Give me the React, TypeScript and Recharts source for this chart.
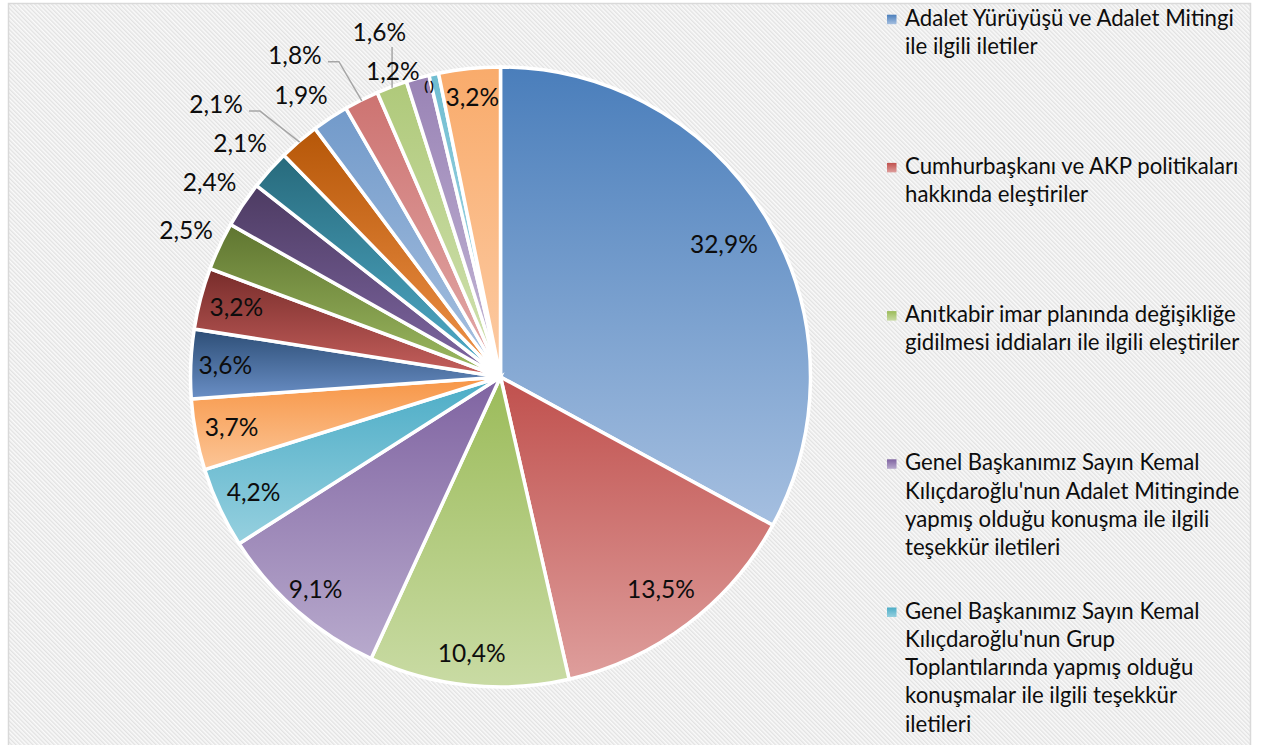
import React from "react";
import { PieChart, Pie, Cell, Legend } from "recharts";

// ---------- data ----------
const categories: string[] = [
  "Adalet Yürüyüşü ve Adalet Mitingi ile ilgili iletiler",
  "Cumhurbaşkanı ve AKP politikaları hakkında eleştiriler",
  "Anıtkabir imar planında değişikliğe gidilmesi iddiaları ile ilgili eleştiriler",
  "Genel Başkanımız Sayın Kemal Kılıçdaroğlu'nun Adalet Mitinginde yapmış olduğu konuşma ile ilgili teşekkür iletileri",
  "Genel Başkanımız Sayın Kemal Kılıçdaroğlu'nun Grup Toplantılarında yapmış olduğu konuşmalar ile ilgili teşekkür iletileri",
  "Kategori 6",
  "Kategori 7",
  "Kategori 8",
  "Kategori 9",
  "Kategori 10",
  "Kategori 11",
  "Kategori 12",
  "Kategori 13",
  "Kategori 14",
  "Kategori 15",
  "Kategori 16",
  "Kategori 17",
  "Kategori 18",
];

const values: number[] = [
  32.9, 13.5, 10.4, 9.1, 4.2, 3.7, 3.6, 3.2, 2.5, 2.4, 2.1, 2.1, 1.9, 1.8, 1.6, 1.2, 0.5, 3.2,
];

const labelTexts: string[] = [
  "32,9%", "13,5%", "10,4%", "9,1%", "4,2%", "3,7%", "3,6%", "3,2%", "2,5%", "2,4%",
  "2,1%", "2,1%", "1,9%", "1,8%", "1,6%", "1,2%", "()", "3,2%",
];

// legend lines as wrapped in the original
const legendLines: string[][] = [
  ["Adalet Yürüyüşü ve Adalet Mitingi", "ile ilgili iletiler"],
  ["Cumhurbaşkanı ve AKP politikaları", "hakkında eleştiriler"],
  ["Anıtkabir imar planında değişikliğe", "gidilmesi iddiaları ile ilgili eleştiriler"],
  ["Genel Başkanımız Sayın Kemal", "Kılıçdaroğlu'nun Adalet Mitinginde", "yapmış olduğu konuşma ile ilgili", "teşekkür iletileri"],
  ["Genel Başkanımız Sayın Kemal", "Kılıçdaroğlu'nun Grup", "Toplantılarında yapmış olduğu", "konuşmalar ile ilgili teşekkür", "iletileri"],
];

// ---------- styles / layout ----------
const GRADIENTS: [string, string][] = [
  ["#4A7EBB", "#A5BFE0"],
  ["#C0504D", "#DE9E9C"],
  ["#9BBB59", "#C9DBA4"],
  ["#7F63A1", "#B8AACD"],
  ["#4BACC6", "#96D0DF"],
  ["#F79646", "#FCC597"],
  ["#2C4D75", "#6A8FC6"],
  ["#772C2A", "#C6605D"],
  ["#5F7530", "#9EBB62"],
  ["#4D3B62", "#8068A4"],
  ["#276A7C", "#52AECB"],
  ["#B65708", "#F0934A"],
  ["#729ACA", "#A8C1E0"],
  ["#CD7371", "#E3ABAA"],
  ["#AFC97A", "#D2E2B2"],
  ["#9983B5", "#C5B8D7"],
  ["#6FBDD1", "#AEDBE7"],
  ["#F9AB6B", "#FCCBA4"],
];

const CX = 500.5;
const CY = 377;
const R = 310;
const LABEL_BASE = 307.5;
// label distance from centre (fraction of LABEL_BASE) and angular shift (deg, clockwise)
const LABEL_RF = [
  0.845, 0.865, 0.905, 0.915, 0.886, 0.89, 0.896, 0.888, 1.128, 1.138, 1.138, 1.281, 1.122, 1.242,
  1.189, 1.054, 0.972, 0.914,
];
const LABEL_SHIFT = [0, 0, 0, 0, 0, 0, 0, 0, 0, 0, 0, -5.7, -2, -5.9, 1.2, -3.9, -1.2, 0];
const LEADER: Record<number, "h" | "v"> = { 11: "h", 13: "h", 14: "v" };

const FONT = "Lato, 'Noto Sans', sans-serif";
const RAD = Math.PI / 180;

const polar = (cx: number, cy: number, r: number, angle: number) => ({
  x: cx + Math.cos(-angle * RAD) * r,
  y: cy + Math.sin(-angle * RAD) * r,
});

const data = categories.map((name, i) => ({ name, value: values[i] }));

const renderLabel = (props: any) => {
  const { cx, cy, midAngle, outerRadius, index } = props;
  const angle = midAngle - LABEL_SHIFT[index];
  const p = polar(cx, cy, LABEL_BASE * LABEL_RF[index], angle);
  const txt = labelTexts[index];
  const small = txt === "()";
  const fs = small ? 14 : 24.5;
  const leader = LEADER[index];
  let line: React.ReactNode = null;
  if (leader) {
    const edge = polar(cx, cy, outerRadius - 1, midAngle);
    let pts = "";
    if (leader === "h") {
      const sx = p.x + 33;
      const sy = p.y + 6.5;
      pts = `${sx},${sy} ${sx + 11},${sy} ${edge.x},${edge.y}`;
    } else {
      const sy = p.y + 15;
      pts = `${edge.x},${sy} ${edge.x},${edge.y}`;
    }
    line = <polyline points={pts} fill="none" stroke="#A6A6A6" strokeWidth={1.5} />;
  }
  return (
    <g key={`lbl-${index}`}>
      {line}
      <text
        x={p.x}
        y={p.y + fs * 0.35}
        textAnchor="middle"
        fontFamily={FONT}
        fontSize={fs}
        fontWeight={small ? 700 : 400}
        letterSpacing={small ? 2 : 0}
        fill="#0D0D0D"
      >
        {txt}
      </text>
    </g>
  );
};

const LEG_X = 887;
const LEG_TEXT_X = 905;
const LEG_FIRST_BASE = 25.7;
const LEG_STEP = 148.2;
const LEG_LINE = 28.3;

const renderLegend = () => (
  <svg width={381} height={745} style={{ display: "block" }}>
    {legendLines.map((lines, i) => {
      const base = LEG_FIRST_BASE + i * LEG_STEP;
      return (
        <g key={i}>
          <rect
            x={LEG_X - 870}
            y={base - 11}
            width={9.5}
            height={9.5}
            fill={`url(#grad${i})`}
          />
          {lines.map((ln, j) => (
            <text
              key={j}
              x={LEG_TEXT_X - 870}
              y={base + j * LEG_LINE}
              fontFamily={FONT}
              fontSize={22.2}
              fill="#0D0D0D"
            >
              {ln}
            </text>
          ))}
        </g>
      );
    })}
  </svg>
);

export default function App() {
  return (
    <div
      style={{
        position: "absolute",
        left: 0,
        top: 0,
        width: 1268,
        height: 745,
        overflow: "hidden",
        background: "#fff",
      }}
    >
      <svg
        width={1268}
        height={745}
        style={{ position: "absolute", left: 0, top: 0 }}
      >
        <defs>
          <pattern
            id="stripes"
            patternUnits="userSpaceOnUse"
            width={3}
            height={3}
            patternTransform="rotate(-45)"
          >
            <rect x={0} y={0} width={3} height={3} fill="#FAFAFA" />
            <rect x={0} y={0} width={1.4} height={3} fill="#E2E2E2" />
          </pattern>
          {GRADIENTS.map(([a, b], i) => (
            <linearGradient key={i} id={`grad${i}`} x1="0" y1="0" x2="0" y2="1">
              <stop offset="0%" stopColor={a} />
              <stop offset="100%" stopColor={b} />
            </linearGradient>
          ))}
        </defs>
        <rect
          x={8.5}
          y={3.5}
          width={1242}
          height={800}
          fill="url(#stripes)"
          stroke="#D9D9D9"
          strokeWidth={1.5}
        />
      </svg>
      <div style={{ position: "absolute", left: 0, top: 0 }}>
        <PieChart width={1268} height={745} margin={{ top: 0, right: 0, bottom: 0, left: 0 }}>
          <Pie
            data={data}
            dataKey="value"
            nameKey="name"
            cx={CX}
            cy={CY}
            outerRadius={R}
            startAngle={90}
            endAngle={-270}
            stroke="#FFFFFF"
            strokeWidth={3.5}
            label={renderLabel}
            labelLine={false}
            isAnimationActive={false}
          >
            {data.map((_, i) => (
              <Cell key={i} fill={`url(#grad${i})`} />
            ))}
          </Pie>
          <Legend
            layout="vertical"
            align="right"
            verticalAlign="top"
            content={renderLegend}
            wrapperStyle={{ position: "absolute", left: 870, top: 0, width: 381, height: 745 }}
          />
        </PieChart>
      </div>
    </div>
  );
}
